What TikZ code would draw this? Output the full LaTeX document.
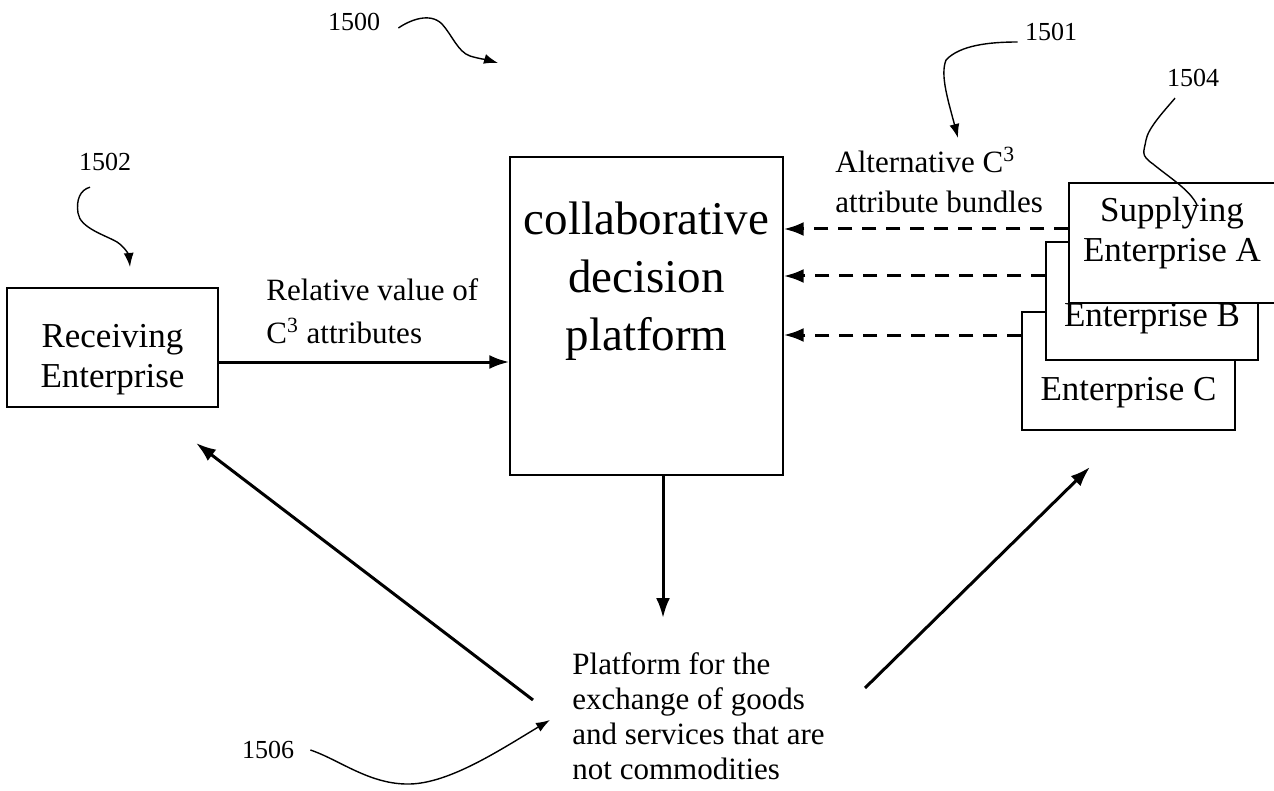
\documentclass[tikz,border=0pt]{standalone}
\usepackage{fontspec}
\setmainfont{Liberation Serif}
\usetikzlibrary{positioning,arrows.meta,calc}

\begin{document}
\begin{tikzpicture}[x=0.5pt,y=-0.5pt,
	box/.style={draw,line width=0.7pt,inner sep=0pt,fill=white},
	boxtext/.style={font=\fontsize{17.5}{20}\selectfont,align=center},
	lbl/.style={font=\fontsize{15.5}{20}\selectfont,align=left,inner sep=0pt},
	numlbl/.style={font=\fontsize{13}{15}\selectfont,inner sep=0pt},
	arr/.style={-{Latex[length=10pt,width=7pt]},line width=1.5pt},
	dasharr/.style={arr,dash pattern=on 7pt off 5pt},
	lead/.style={line width=0.7pt,-{Latex[length=7pt,width=5pt]}}]
	\useasboundingbox (0,0) rectangle (1274,791);
	
	% boxes
	\node[box,minimum width=105.5pt,minimum height=59.5pt,
		label={[boxtext,yshift=-6.25pt]center:Receiving\\Enterprise}] (recv) at (112.5,347.5) {};
	\node[box,minimum width=136.5pt,minimum height=159pt] (cdp) at (646.5,316) {};
	\node[font=\fontsize{23.5}{29}\selectfont,align=center,inner sep=0pt] (cdptxt) at (646.5,281) {collaborative\\decision\\platform};
	
	\node[box,minimum width=106.5pt,minimum height=59pt,
		label={[boxtext,yshift=-11pt]center:Enterprise C}] (entC) at (1128.5,371) {};
	\node[box,minimum width=106pt,minimum height=59pt,
		label={[boxtext,yshift=-9pt]center:Enterprise B}] (entB) at (1152,301) {};
	\node[box,minimum width=103pt,minimum height=60pt,
		label={[boxtext,yshift=4.75pt]center:Supplying\\Enterprise A}] (entA) at (1172,243) {};
	
	% texts
	\node[lbl,anchor=west,font=\fontsize{15.5}{21.5}\selectfont] (relval) at (266,311) {Relative value of\\C\textsuperscript{3} attributes};
	\node[lbl,anchor=west] (altb) at (835,180) {Alternative C\textsuperscript{3}\\attribute bundles};
	\node[lbl,anchor=north west,font=\fontsize{15.5}{17.5}\selectfont] (plat) at (572,652) {Platform for the\\exchange of goods\\and services that are\\not commodities};
	
	% connectors
	\draw[arr] ([yshift=-7.25pt]recv.east) -- ([yshift=-7.25pt]recv.east -| cdp.west);
	\coordinate (inA) at ([yshift=7pt]entA.west);
	\coordinate (inB) at ([yshift=12.5pt]entB.west);
	\coordinate (inC) at ([yshift=18pt]entC.west);
	\draw[dasharr] (inA) -- (inA -| cdp.east);
	\draw[dasharr] (inB) -- (inB -| cdp.east);
	\draw[dasharr] (inC) -- (inC -| cdp.east);
	
	\coordinate (pfTop) at (663,618);
	\draw[arr] (cdp.south -| pfTop) -- (pfTop);
	\coordinate (pfLeft) at (533,700);
	\coordinate (toRecv) at (196,443);
	\draw[arr] (pfLeft) -- (toRecv);
	\coordinate (pfRight) at (865,688);
	\coordinate (toSupp) at (1090,467);
	\draw[arr] (pfRight) -- (toSupp);
	
	% reference numerals
	\node[numlbl] (n1500) at (354,22) {1500};
	\node[numlbl] (n1501) at (1051,32) {1501};
	\node[numlbl] (n1502) at (105,162) {1502};
	\node[numlbl] (n1504) at (1193,78) {1504};
	\node[numlbl] (n1506) at (268,750) {1506};
	
	\draw[lead] ([shift={(18,6)}]n1500.east) .. controls (410,20) and (430,12) .. (442,24)
		.. controls (452,35) and (458,52) .. (470,56) .. controls (480,59) and (488,60) .. (498,63);
	\draw[lead] ([shift={(-7,10)}]n1501.west) .. controls (990,42) and (960,45) .. (946,60)
		.. controls (940,75) and (948,100) .. (958,138);
	\draw[lead] ([shift={(-15,16)}]n1502.south) .. controls (80,190) and (76,200) .. (78,213)
		.. controls (80,228) and (105,235) .. (117,242) .. controls (126,248) and (129,256) .. (130,267);
	\draw[line width=0.7pt] ([shift={(-18,11)}]n1504.south) .. controls (1165,110) and (1148,128) .. (1146,140)
		.. controls (1144,152) and (1140,155) .. (1153,164) .. controls (1170,178) and (1190,190) .. (1197,205);
	\draw[lead] ([xshift=8pt]n1506.east) .. controls (340,760) and (370,785) .. (410,784)
		.. controls (450,783) and (500,750) .. (550,720);
\end{tikzpicture}
\end{document}
